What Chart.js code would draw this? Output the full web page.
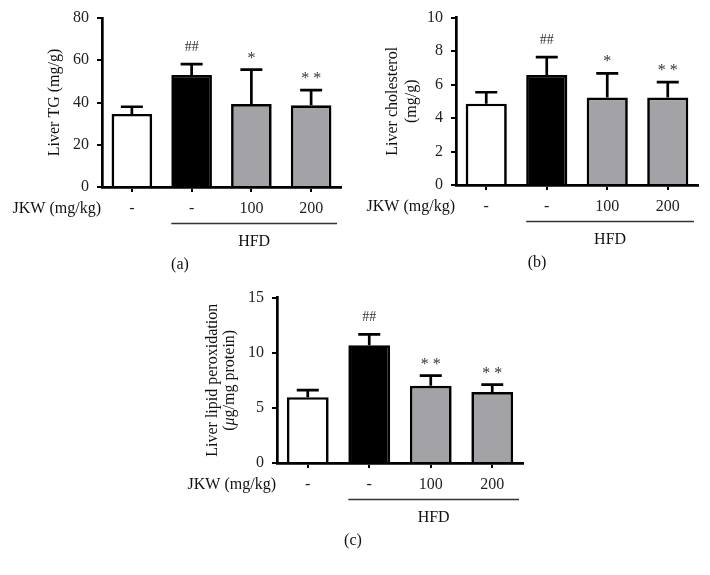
<!DOCTYPE html>
<html>
<head>
<meta charset="utf-8">
<script src="https://cdn.jsdelivr.net/npm/chart.js@4.4.0/dist/chart.umd.min.js"></script>
<style>
  body { margin: 0; background: #fff; width: 710px; height: 575px; position: relative; overflow: hidden; }
  canvas { position: absolute; }
</style>
</head>
<body>
<canvas id="chartA" width="355" height="285" style="left:0;top:0"></canvas>
<canvas id="chartB" width="355" height="285" style="left:355px;top:0"></canvas>
<canvas id="chartC" width="370" height="295" style="left:170px;top:280px"></canvas>
<script>
// groups: normal diet, HFD, HFD + JKW 100, HFD + JKW 200
const doseLabels = ['-', '-', '100', '200'];
const barColors = ['#ffffff', '#000000', '#a3a3a7', '#a3a3a7'];

const tgMean = [34.6, 53.0, 39.3, 38.7];
const tgSd = [3.4, 5.2, 16.3, 7.2];
const tgMarks = ['', '##', '*', '**'];

const cholMean = [4.86, 6.57, 5.22, 5.22];
const cholSd = [0.68, 1.07, 1.45, 0.93];
const cholMarks = ['', '##', '*', '**'];

const lipidMean = [5.97, 10.68, 7.01, 6.44];
const lipidSd = [0.63, 0.98, 0.92, 0.66];
const lipidMarks = ['', '##', '**', '**'];

const SERIF = '"Liberation Serif", "DejaVu Serif", serif';
const tickFont = { family: SERIF, size: 16 };

// draws error bars, significance marks, axis titles, JKW row, HFD bracket and panel letter
function extras(cfg) {
  return {
    id: 'extras',
    afterDatasetsDraw(chart) {
      const ctx = chart.ctx;
      const y = chart.scales.y;
      const bars = chart.getDatasetMeta(0).data;
      ctx.save();
      ctx.strokeStyle = '#000';
      ctx.lineWidth = 2.7;
      bars.forEach((bar, i) => {
        const top = y.getPixelForValue(cfg.mean[i] + cfg.sd[i]);
        ctx.beginPath();
        ctx.moveTo(bar.x, bar.y);
        ctx.lineTo(bar.x, top);
        ctx.moveTo(bar.x - 11, top);
        ctx.lineTo(bar.x + 11, top);
        ctx.stroke();
        const m = cfg.marks[i];
        if (m) {
          ctx.fillStyle = '#333';
          ctx.textAlign = 'center';
          if (m[0] === '#') {
            ctx.font = '14px ' + SERIF;
            ctx.textBaseline = 'middle';
            ctx.fillText(m, bar.x, top - 17);
          } else {
            ctx.font = '16px ' + SERIF;
            ctx.textBaseline = 'alphabetic';
            ctx.fillText(m.split('').join(' '), bar.x, top - 7);
          }
        }
      });
      ctx.restore();
    },
    afterDraw(chart) {
      const ctx = chart.ctx;
      const ca = chart.chartArea;
      const bars = chart.getDatasetMeta(0).data;
      ctx.save();
      ctx.fillStyle = '#111';
      // y axis title (rotated)
      const midY = (ca.top + ca.bottom) / 2;
      cfg.title.forEach((segs, li) => {
        ctx.save();
        ctx.translate(cfg.titleX[li], midY);
        ctx.rotate(-Math.PI / 2);
        ctx.textBaseline = 'middle';
        ctx.textAlign = 'left';
        let w = 0;
        segs.forEach(s => { ctx.font = (s.italic ? 'italic ' : '') + '16px ' + SERIF; w += ctx.measureText(s.t).width; });
        let x = -w / 2;
        segs.forEach(s => {
          ctx.font = (s.italic ? 'italic ' : '') + '16px ' + SERIF;
          ctx.fillText(s.t, x, 0);
          x += ctx.measureText(s.t).width;
        });
        ctx.restore();
      });
      ctx.font = '16px ' + SERIF;
      ctx.textBaseline = 'middle';
      // JKW row label
      ctx.textAlign = 'right';
      ctx.fillText('JKW (mg/kg)', ca.left - 1, ca.bottom + 22);
      // HFD bracket
      const x0 = bars[1].x - bars[1].width / 2;
      const x1 = ca.right - 4;
      ctx.strokeStyle = '#333';
      ctx.lineWidth = 1.5;
      ctx.beginPath();
      ctx.moveTo(x0, ca.bottom + 36.5);
      ctx.lineTo(x1, ca.bottom + 36.5);
      ctx.stroke();
      ctx.textAlign = 'center';
      ctx.fillText('HFD', (x0 + x1) / 2, ca.bottom + 55);
      ctx.fillText(cfg.letter, cfg.letterX, ca.bottom + 78);
      ctx.restore();
    }
  };
}

function makePanel(id, cfg) {
  return new Chart(document.getElementById(id), {
    type: 'bar',
    data: {
      labels: doseLabels,
      datasets: [{
        data: cfg.mean,
        backgroundColor: barColors,
        borderColor: '#000',
        borderWidth: 2.7,
        borderSkipped: 'bottom',
        barPercentage: 0.68,
        categoryPercentage: 1
      }]
    },
    options: {
      responsive: false,
      animation: false,
      devicePixelRatio: 1,
      layout: { padding: cfg.pad },
      plugins: { legend: { display: false }, tooltip: { enabled: false } },
      scales: {
        x: {
          grid: { offset: false, drawOnChartArea: false, tickLength: 5, color: '#000', lineWidth: 2 },
          border: { color: '#000', width: 2.7 },
          ticks: { font: tickFont, color: '#222', padding: 7 },
          afterFit: s => { s.height = 30; }
        },
        y: {
          min: 0,
          max: cfg.max,
          ticks: { stepSize: cfg.step, font: tickFont, color: '#222', padding: 8 },
          grid: { drawOnChartArea: false, tickLength: 5, color: '#000', lineWidth: 2 },
          border: { color: '#000', width: 2.7 },
          afterFit: s => { s.width = 60; }
        }
      }
    },
    plugins: [extras(cfg)]
  });
}

makePanel('chartA', {
  mean: tgMean, sd: tgSd, marks: tgMarks, max: 80, step: 20,
  pad: { left: 42, right: 14, top: 18, bottom: 68 },
  title: [[{ t: 'Liver TG (mg/g)' }]], titleX: [55],
  letter: '(a)', letterX: 180
});

makePanel('chartB', {
  mean: cholMean, sd: cholSd, marks: cholMarks, max: 10, step: 2,
  pad: { left: 41, right: 12, top: 17, bottom: 70 },
  title: [[{ t: 'Liver cholesterol' }], [{ t: '(mg/g)' }]], titleX: [38, 57],
  letter: '(b)', letterX: 182
});

makePanel('chartC', {
  mean: lipidMean, sd: lipidSd, marks: lipidMarks, max: 15, step: 5,
  pad: { left: 47, right: 17, top: 15, bottom: 82 },
  title: [[{ t: 'Liver lipid peroxidation' }], [{ t: '(' }, { t: 'μ', italic: true }, { t: 'g/mg protein)' }]], titleX: [43, 60],
  letter: '(c)', letterX: 183
});
</script>
</body>
</html>
